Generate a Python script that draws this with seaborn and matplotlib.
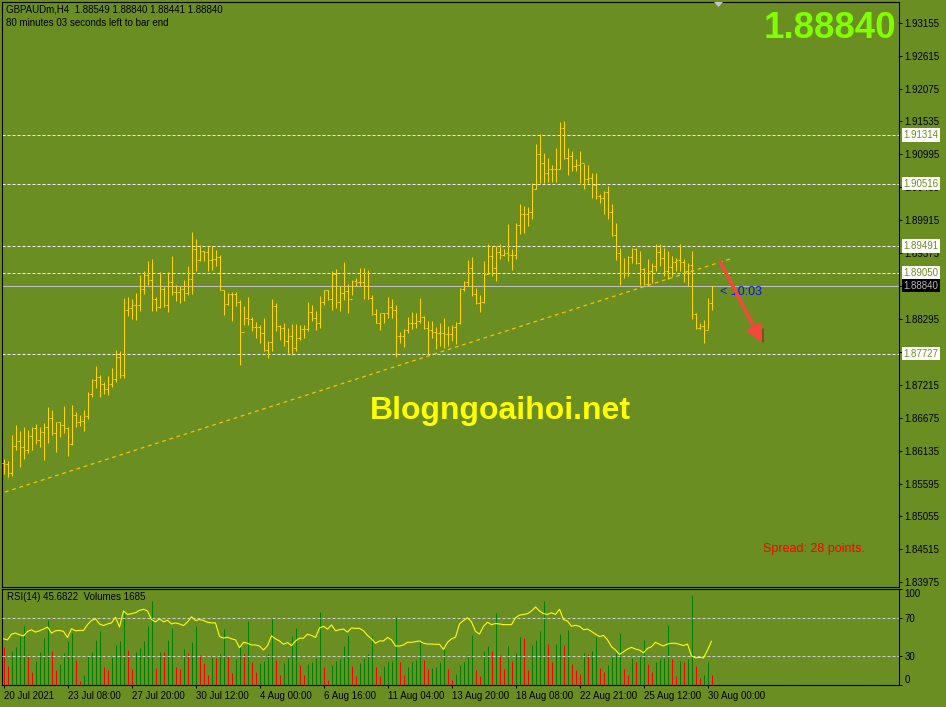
import numpy as np
import matplotlib
matplotlib.use("Agg")
import matplotlib.pyplot as plt
import matplotlib.patheffects as pe
from matplotlib.patches import Polygon
import seaborn as sns

W, H = 946, 707
BG = "#6B8E23"
BAR = "#FFD700"

# ---- GBPAUD H4 bars (last bar = live bar) ----
high = [
    1.85996, 1.85963, 1.86396, 1.86554, 1.86461, 1.86527, 1.86472, 1.86527, 1.86571, 1.86527,
    1.86592, 1.86850, 1.86800, 1.86609, 1.86603, 1.86872, 1.86527, 1.86882, 1.86767, 1.86718,
    1.86800, 1.87101, 1.87309, 1.87528, 1.87380, 1.87260, 1.87353, 1.87490, 1.87790, 1.87774,
    1.88638, 1.88655, 1.88627, 1.88720, 1.89021, 1.89076, 1.89240, 1.89278, 1.88655, 1.89060,
    1.88813, 1.89060, 1.89333, 1.88857, 1.88830, 1.88939, 1.89169, 1.89721, 1.89606, 1.89503,
    1.89415, 1.89486, 1.89486, 1.89431, 1.89349, 1.88775, 1.88720, 1.88731, 1.88731, 1.88611,
    1.88512, 1.88655, 1.88321, 1.88239, 1.88201, 1.88310, 1.87927, 1.88622, 1.88556, 1.88201,
    1.88228, 1.88146, 1.88212, 1.88212, 1.88201, 1.88201, 1.88573, 1.88529, 1.88420, 1.88666,
    1.88775, 1.88775, 1.89076, 1.89114, 1.88830, 1.89224, 1.88868, 1.88939, 1.88966, 1.89131,
    1.89135, 1.89097, 1.88687, 1.88462, 1.88397, 1.88397, 1.88654, 1.88615, 1.88517, 1.88079,
    1.88123, 1.88326, 1.88408, 1.88386, 1.88632, 1.88342, 1.88260, 1.88260, 1.88161, 1.88233,
    1.88315, 1.88178, 1.88189, 1.88244, 1.88807, 1.88916, 1.89255, 1.89310, 1.88807, 1.88681,
    1.89245, 1.89518, 1.89491, 1.89491, 1.89529, 1.89436, 1.89846, 1.89436, 1.89874, 1.90174,
    1.90147, 1.90131, 1.90530, 1.91170, 1.91323, 1.91022, 1.90940, 1.90814, 1.91104, 1.91531,
    1.91542, 1.91093, 1.91050, 1.90913, 1.91050, 1.90831, 1.90814, 1.90694, 1.90694, 1.90339,
    1.90393, 1.90475, 1.90174, 1.89863, 1.89463, 1.89288, 1.89327, 1.89463, 1.89463, 1.89409,
    1.89135, 1.89272, 1.89217, 1.89518, 1.89518, 1.89463, 1.89409, 1.89327, 1.89299, 1.89518,
    1.89283, 1.89217, 1.89409, 1.88397, 1.88233, 1.88276, 1.88643, 1.88840]
low = [
    1.85750, 1.85701, 1.85717, 1.86144, 1.85871, 1.85996, 1.86090, 1.86144, 1.86242, 1.86199,
    1.85980, 1.86253, 1.86390, 1.86117, 1.86352, 1.86417, 1.86046, 1.86221, 1.86527, 1.86538,
    1.86461, 1.86653, 1.87008, 1.87161, 1.87014, 1.87068, 1.87052, 1.87178, 1.87260, 1.87326,
    1.87326, 1.88338, 1.88299, 1.88283, 1.88420, 1.88709, 1.88857, 1.88420, 1.88420, 1.88474,
    1.88485, 1.88409, 1.88693, 1.88583, 1.88556, 1.88583, 1.88693, 1.88704, 1.89076, 1.89240,
    1.89240, 1.89076, 1.89103, 1.89169, 1.88764, 1.88365, 1.88529, 1.88255, 1.88502, 1.87544,
    1.88201, 1.88201, 1.88091, 1.87982, 1.87900, 1.87774, 1.87654, 1.87763, 1.88091, 1.87955,
    1.87845, 1.87736, 1.87697, 1.87763, 1.87955, 1.87982, 1.88091, 1.88255, 1.88119, 1.88146,
    1.88529, 1.88611, 1.88447, 1.88474, 1.88420, 1.88611, 1.88392, 1.88693, 1.88830, 1.88830,
    1.88626, 1.88626, 1.88358, 1.88222, 1.88107, 1.88233, 1.88315, 1.88315, 1.87675, 1.87904,
    1.87839, 1.88068, 1.88123, 1.88140, 1.88222, 1.88123, 1.87713, 1.87986, 1.87795, 1.87850,
    1.87822, 1.87850, 1.87932, 1.87877, 1.88205, 1.88752, 1.88834, 1.88670, 1.88533, 1.88408,
    1.88561, 1.89026, 1.88998, 1.88916, 1.89272, 1.89327, 1.89245, 1.89097, 1.89283, 1.89682,
    1.89709, 1.89819, 1.89928, 1.90421, 1.90530, 1.90530, 1.90541, 1.90541, 1.90541, 1.90749,
    1.90913, 1.90656, 1.90721, 1.90721, 1.90530, 1.90432, 1.90530, 1.90284, 1.90256, 1.90202,
    1.90010, 1.89928, 1.89655, 1.89261, 1.88845, 1.88971, 1.88998, 1.89217, 1.89190, 1.88851,
    1.88851, 1.88845, 1.88889, 1.89080, 1.89162, 1.88998, 1.88944, 1.88998, 1.89080, 1.89080,
    1.88905, 1.88834, 1.88287, 1.88123, 1.88123, 1.87904, 1.88123, 1.88441]
close = [
    1.85914, 1.85761, 1.86210, 1.86297, 1.86188, 1.86144, 1.86374, 1.86500, 1.86308, 1.86445,
    1.86516, 1.86664, 1.86417, 1.86598, 1.86554, 1.86500, 1.86237, 1.86718, 1.86598, 1.86625,
    1.86702, 1.87057, 1.87287, 1.87336, 1.87227, 1.87150, 1.87232, 1.87315, 1.87665, 1.87369,
    1.88436, 1.88474, 1.88518, 1.88518, 1.88786, 1.89021, 1.88928, 1.88627, 1.88485, 1.88786,
    1.88518, 1.88901, 1.88737, 1.88737, 1.88786, 1.88720, 1.88950, 1.89442, 1.89256, 1.89404,
    1.89388, 1.89256, 1.89284, 1.89306, 1.88764, 1.88540, 1.88709, 1.88709, 1.88573, 1.88075,
    1.88310, 1.88299, 1.88163, 1.88157, 1.88064, 1.87790, 1.87911, 1.88502, 1.88173, 1.88146,
    1.87927, 1.88020, 1.87818, 1.87982, 1.88130, 1.88130, 1.88403, 1.88310, 1.88228, 1.88573,
    1.88764, 1.88622, 1.89038, 1.88573, 1.88720, 1.88748, 1.88622, 1.88912, 1.88901, 1.88901,
    1.88834, 1.88637, 1.88369, 1.88233, 1.88386, 1.88386, 1.88495, 1.88440, 1.88014, 1.88014,
    1.88107, 1.88233, 1.88233, 1.88260, 1.88326, 1.88140, 1.88107, 1.88079, 1.88068, 1.88068,
    1.88041, 1.88041, 1.88167, 1.88222, 1.88780, 1.88905, 1.89124, 1.88698, 1.88561, 1.88572,
    1.89026, 1.89327, 1.89135, 1.89398, 1.89338, 1.89381, 1.89338, 1.89338, 1.89830, 1.90010,
    1.90010, 1.90054, 1.90421, 1.90995, 1.90858, 1.90683, 1.90760, 1.90749, 1.90760, 1.91422,
    1.90940, 1.90968, 1.90803, 1.90820, 1.90858, 1.90585, 1.90601, 1.90486, 1.90311, 1.90284,
    1.90377, 1.90054, 1.89666, 1.89370, 1.89053, 1.89053, 1.89316, 1.89447, 1.89217, 1.89108,
    1.88862, 1.89080, 1.89162, 1.89392, 1.89299, 1.89080, 1.89152, 1.89228, 1.89255, 1.89228,
    1.89080, 1.89173, 1.88369, 1.88151, 1.88178, 1.88107, 1.88561, 1.88840]
first_open = 1.85930
last_open = 1.88549

volume = [
    6270, 3190, 5710, 6380, 8120, 9800, 5040, 2130, 4030, 5600,
    7840, 10920, 5710, 2520, 3530, 5320, 7280, 8680, 4200, 670,
    1680, 4930, 5600, 7560, 9070, 3080, 2520, 4760, 6720, 7390,
    12430, 5880, 2690, 5600, 6160, 7280, 9800, 14110, 2910, 5600,
    5490, 7560, 9520, 3080, 2690, 6050, 5320, 7110, 9800, 5040,
    3640, 1680, 4760, 4480, 5210, 9410, 4870, 1960, 4370, 6440,
    5210, 10640, 3810, 2130, 3750, 4030, 5210, 11200, 4200, 1680,
    3750, 4590, 8230, 9520, 3360, 1680, 3530, 3810, 4590, 12150,
    3080, 840, 3360, 4030, 4370, 6440, 8400, 3190, 1510, 3750,
    4480, 5210, 8230, 3080, 1570, 3250, 3920, 4030, 11310, 3810,
    1680, 3080, 3810, 4200, 7170, 4200, 2690, 2910, 2970, 3920,
    6050, 2690, 840, 1790, 3360, 3920, 5040, 8400, 2520, 1510,
    5710, 6440, 5710, 12040, 5040, 2690, 6440, 4030, 5320, 7950,
    7840, 2520, 6720, 7560, 8960, 14000, 6830, 3920, 6830, 8510,
    6720, 9240, 3470, 2520, 1790, 5320, 5150, 5710, 7950, 2910,
    2130, 3360, 4930, 5320, 8680, 2690, 1680, 4480, 3810, 4870,
    7560, 3530, 2130, 3810, 4370, 4590, 10080, 4370, 1510, 4030,
    3810, 4370, 15120, 3190, 1230, 1680, 3810, 1685]

rsi = [
    48.1, 47.0, 53.0, 54.1, 52.3, 51.2, 55.8, 57.6, 55.1, 56.5,
    58.3, 60.4, 54.1, 56.5, 56.9, 55.8, 49.5, 58.7, 56.5, 56.9,
    56.9, 62.9, 67.2, 68.9, 63.6, 61.9, 63.6, 64.7, 70.7, 60.4,
    77.1, 73.5, 74.3, 75.3, 77.8, 78.9, 77.1, 68.2, 65.8, 68.9,
    65.8, 67.5, 63.6, 64.7, 63.6, 61.9, 65.8, 71.1, 67.2, 68.2,
    67.2, 65.4, 64.7, 64.7, 50.5, 48.8, 49.8, 48.1, 47.0, 38.9,
    44.5, 43.5, 41.7, 41.7, 40.6, 36.4, 41.0, 51.2, 48.1, 45.9,
    42.4, 44.2, 41.0, 45.9, 48.8, 48.8, 53.0, 51.6, 49.5, 59.4,
    61.2, 58.3, 62.6, 56.5, 57.6, 58.3, 55.1, 59.4, 59.0, 59.0,
    56.5, 51.6, 48.1, 43.5, 45.9, 45.9, 49.5, 47.0, 40.6, 40.6,
    41.7, 44.5, 44.5, 45.2, 45.9, 43.5, 42.7, 42.7, 42.4, 42.4,
    37.1, 44.5, 48.1, 49.8, 63.6, 67.2, 70.0, 65.8, 55.8, 53.0,
    61.2, 65.4, 62.9, 64.0, 63.6, 62.9, 62.9, 62.9, 70.0, 72.8,
    73.5, 74.3, 77.1, 81.3, 77.1, 74.3, 73.5, 75.3, 73.5, 78.9,
    68.2, 66.5, 61.2, 62.2, 61.2, 57.6, 58.3, 55.8, 53.0, 50.5,
    51.6, 47.0, 39.9, 36.4, 31.8, 34.6, 37.4, 39.2, 37.4, 36.4,
    33.5, 38.1, 39.9, 44.5, 42.4, 40.6, 42.7, 43.5, 43.5, 42.4,
    41.0, 42.7, 30.4, 28.2, 28.9, 28.2, 36.4, 45.6822]

xtick_bars = [0, 16, 32, 48, 64, 80, 96, 112, 128, 144, 160, 176]
xtick_text = ["20 Jul 2021", "23 Jul 08:00", "27 Jul 20:00", "30 Jul 12:00",
              "4 Aug 00:00", "6 Aug 16:00", "11 Aug 04:00", "13 Aug 20:00",
              "18 Aug 08:00", "22 Aug 21:00", "25 Aug 12:00", "30 Aug 00:00"]
price_ticks = [1.93155, 1.92615, 1.92075, 1.91535, 1.90995, 1.90455, 1.89915,
               1.89375, 1.88835, 1.88295, 1.87755, 1.87215, 1.86675, 1.86135,
               1.85595, 1.85055, 1.84515, 1.83975]
levels = [1.91314, 1.90516, 1.89491, 1.89050, 1.87727]
bid = 1.88840

# drawn objects: (bar index, price) anchors
trend_bars = [0.4, 182.4]
trend_prices = [1.85456, 1.89295]
arrow_bars = [179.2, 189.7]
arrow_prices = [1.89229, 1.87901]

sns.set_theme(style="white", rc={
    "figure.facecolor": BG, "axes.facecolor": BG, "axes.edgecolor": "black",
    "axes.linewidth": 0.8, "xtick.color": "black", "ytick.color": "black",
})
plt.rcParams["font.family"] = ["Liberation Sans", "DejaVu Sans"]

fig = plt.figure(figsize=(W / 100, H / 100), dpi=100)


def fx(x):
    return x / W


def fy(y):
    return 1 - y / H


ax = fig.add_axes([fx(2), fy(586.5), fx(899) - fx(2), fy(2) - fy(586.5)])
rax = fig.add_axes([fx(2), fy(685), fx(899) - fx(2), fy(589) - fy(685)])

idx = np.arange(len(close))
hi = np.array(high)
lo = np.array(low)
cl = np.array(close)
# an H4 bar opens where the previous one closed
op = np.r_[first_open, cl[:-2], last_open]

# 4 px per bar, bar centres on pixel centres
xlim = (-0.375, 223.875)
ax.set_xlim(*xlim)
ax.set_ylim(1.83906, 1.93494)

for lvl in levels:
    ax.axhline(lvl, color="white", lw=0.72, ls=(0, (3, 2)), zorder=1)
ax.axhline(bid, color="#C0C0C0", lw=0.72, zorder=1)
ax.plot(trend_bars, trend_prices, color="#F5C400", lw=0.9, ls=(0, (3, 3)), zorder=2)

bar_kw = dict(color=BAR, lw=0.72, capstyle="butt", zorder=3)
ax.vlines(idx, lo, hi, **bar_kw)
ax.hlines(op, idx - 0.375, idx, **bar_kw)
ax.hlines(cl, idx, idx + 0.375, **bar_kw)

ax.set_xticks([])
ax.yaxis.tick_right()
ax.set_yticks(price_ticks)
ax.set_yticklabels([f"{t:.5f}" for t in price_ticks])
ax.tick_params(axis="y", direction="out", length=2.2, width=0.72, pad=1.8,
               labelsize=7, right=True, left=False)

for lvl in levels:
    ax.annotate(f"{lvl:.5f}", xy=(1.0, lvl), xycoords=("axes fraction", "data"),
                xytext=(3.2, 0), textcoords="offset points", ha="left", va="center",
                fontsize=7, color=BG, annotation_clip=False, zorder=10,
                bbox=dict(boxstyle="square,pad=0.18", fc="white", ec="none"))
ax.annotate(f"{bid:.5f}", xy=(1.0, bid), xycoords=("axes fraction", "data"),
            xytext=(3.2, 0), textcoords="offset points", ha="left", va="center",
            fontsize=7, color="#B8B8B8", annotation_clip=False, zorder=10,
            bbox=dict(boxstyle="square,pad=0.18", fc="black", ec="none"))

# timer label, then the red arrow over it
ax.text(179.0, bid, "< 10:03", color="#0A14E6", fontsize=9, ha="left",
        va="top", zorder=4)
arr = ax.annotate("", xy=(arrow_bars[1], arrow_prices[1]),
                  xytext=(arrow_bars[0], arrow_prices[0]),
                  arrowprops=dict(arrowstyle="-|>,head_length=0.8,head_width=0.4",
                                  color="#F24A3A", lw=2.6, shrinkA=0, shrinkB=0,
                                  mutation_scale=12), zorder=5)
arr.arrow_patch.set_path_effects([pe.SimplePatchShadow(offset=(2.5, -2.5), alpha=0.45),
                                  pe.Normal()])

# ---- RSI / volumes window ----
rax.set_xlim(*xlim)
rax.set_ylim(0, 16050)
vcols = ["#FF0000"] + ["#008000" if volume[i] > volume[i - 1] else "#FF0000"
                       for i in range(1, len(volume))]
rax.vlines(idx, 0, volume, colors=vcols, lw=0.72, capstyle="butt")
rax.set_yticks([])
rax.set_xticks(xtick_bars)
rax.set_xticklabels(xtick_text)
for lab in rax.get_xticklabels():
    lab.set_ha("left")
rax.tick_params(axis="x", direction="out", length=2.2, width=0.72, pad=2,
                labelsize=7, bottom=True)

tax = rax.twinx()
tax.set_ylim(0, 100)
tax.axhline(70, color="#D0D0D0", lw=0.72, ls=(0, (3, 2)))
tax.axhline(30, color="#D0D0D0", lw=0.72, ls=(0, (3, 2)))
sns.lineplot(x=idx, y=rsi, ax=tax, color="#FFFF00", lw=0.8)
tax.set_xlim(*xlim)
tax.set_xlabel("")
tax.set_ylabel("")
tax.set_yticks([0, 30, 70, 100])
tax.set_yticklabels(["0", "30", "70", "100"])
tax.tick_params(axis="y", direction="out", length=2.2, width=0.72, pad=1.8,
                labelsize=7, right=True)
labs = tax.get_yticklabels()
labs[0].set_va("bottom")
labs[-1].set_va("top")
for s in tax.spines.values():
    s.set_visible(False)

# ---- chart texts ----
fig.text(fx(6), fy(9), f"GBPAUDm,H4  {last_open:.5f} {high[-1]:.5f} {low[-1]:.5f} {close[-1]:.5f}",
         fontsize=7, color="black", ha="left", va="center")
fig.text(fx(6), fy(23), "80 minutes 03 seconds left to bar end",
         fontsize=7, color="black", ha="left", va="center")
fig.text(fx(896), fy(38), f"{close[-1]:.5f}", fontsize=26.5, fontweight="bold",
         color="#80FF00", ha="right", va="baseline")
fig.text(fx(500), fy(419), "Blogngoaihoi.net", fontsize=23, fontweight="bold",
         color="#FFFF00", ha="center", va="baseline")
fig.text(fx(763), fy(552), "Spread: 28 points.", fontsize=9, color="#FF0000",
         ha="left", va="baseline")
fig.text(fx(7), fy(597.5), f"RSI(14) {rsi[-1]:.4f}  Volumes {volume[-1]}",
         fontsize=7, color="black", ha="left", va="center")

fig.patches.append(Polygon([[fx(714), fy(2)], [fx(723), fy(2)], [fx(718.5), fy(7)]],
                           closed=True, transform=fig.transFigure,
                           fc="#C8C8C8", ec="none"))

fig.savefig("out.png", dpi=100, facecolor=BG)
